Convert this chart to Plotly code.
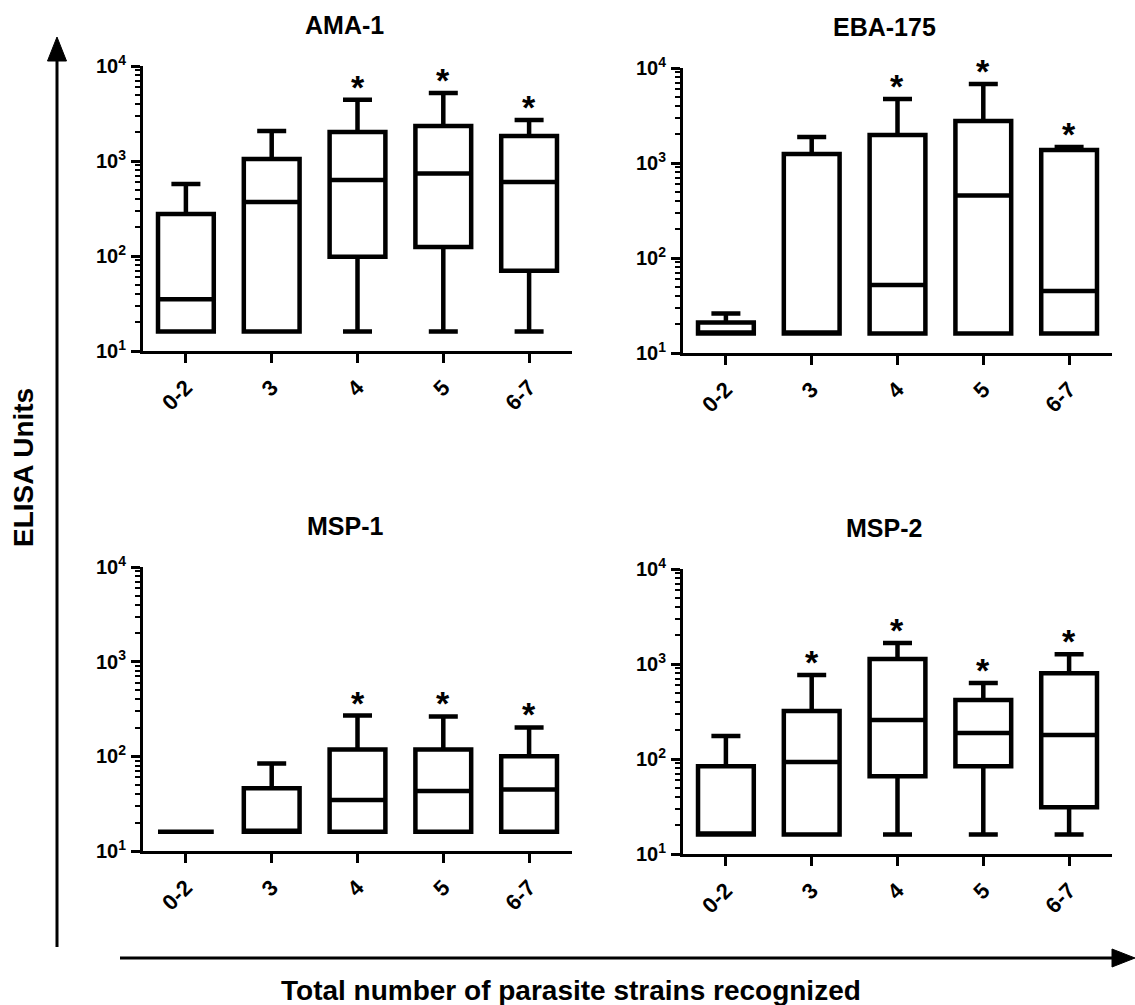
import plotly.graph_objects as go
import math

W, H = 1135, 1005

categories = ["0-2", "3", "4", "5", "6-7"]

# AMA-1
ama_low = [16, 16, 16, 16, 16]
ama_q1 = [16, 16, 98, 124, 70]
ama_med = [35, 370, 630, 740, 600]
ama_q3 = [277, 1050, 2020, 2330, 1830]
ama_high = [573, 2070, 4400, 5200, 2700]
ama_sig = [False, False, True, True, True]

# EBA-175
eba_low = [16, 16, 16, 16, 16]
eba_q1 = [16, 16, 16, 16, 16]
eba_med = [16, 16, 52, 455, 45]
eba_q3 = [21, 1245, 1970, 2770, 1370]
eba_high = [26, 1880, 4720, 6800, 1470]
eba_sig = [False, False, True, True, True]

# MSP-1
msp1_low = [16, 16, 16, 16, 16]
msp1_q1 = [16, 16, 16, 16, 16]
msp1_med = [16, 16, 34.5, 43, 44.5]
msp1_q3 = [16, 46, 118, 118, 100]
msp1_high = [16, 84, 270, 264, 202]
msp1_sig = [False, False, True, True, True]

# MSP-2
msp2_low = [16, 16, 16, 16, 16]
msp2_q1 = [16, 16, 66, 84, 31]
msp2_med = [16, 93, 257, 188, 179]
msp2_q3 = [84, 320, 1130, 418, 800]
msp2_high = [175, 766, 1660, 631, 1270]
msp2_sig = [False, True, True, True, True]

panel_titles = ["AMA-1", "EBA-175", "MSP-1", "MSP-2"]
y_tickvals = [10, 100, 1000, 10000]
y_ticktext = ["10<sup>1</sup>", "10<sup>2</sup>", "10<sup>3</sup>", "10<sup>4</sup>"]
minor_vals = [m * 10 ** e for e in (1, 2, 3) for m in range(2, 10)]

x_title = "Total number of parasite strains recognized"
y_title = "ELISA Units"

FONT = "Liberation Sans, Arial, sans-serif"


def px_x(x):
    return x / W


def px_y(y):
    return 1 - y / H


panels = [
    dict(data=(ama_low, ama_q1, ama_med, ama_q3, ama_high), sig=ama_sig,
         xdom=(143, 572), ydom=(66, 351), title_xy=(344, 25)),
    dict(data=(eba_low, eba_q1, eba_med, eba_q3, eba_high), sig=eba_sig,
         xdom=(683, 1112), ydom=(68, 353), title_xy=(884, 27)),
    dict(data=(msp1_low, msp1_q1, msp1_med, msp1_q3, msp1_high), sig=msp1_sig,
         xdom=(143, 572), ydom=(567, 851), title_xy=(345, 526)),
    dict(data=(msp2_low, msp2_q1, msp2_med, msp2_q3, msp2_high), sig=msp2_sig,
         xdom=(683, 1112), ydom=(569, 854), title_xy=(884, 528)),
]

fig = go.Figure()
annotations = []
layout_axes = {}

for i, p in enumerate(panels):
    n = "" if i == 0 else str(i + 1)
    low, q1, med, q3, high = p["data"]
    fig.add_trace(go.Box(
        x=categories, q1=q1, median=med, q3=q3,
        lowerfence=low, upperfence=high,
        fillcolor="white", line=dict(color="black", width=4.5),
        whiskerwidth=0.52, boxpoints=False, showlegend=False,
        xaxis="x" + n, yaxis="y" + n, hoverinfo="skip",
    ))
    x0, x1 = p["xdom"]
    yt, yb = p["ydom"]
    layout_axes["xaxis" + n] = dict(
        domain=[px_x(x0), px_x(x1)], anchor="y" + n, type="category",
        range=[-0.5, 4.5], showline=True, linewidth=3, linecolor="black",
        ticks="outside", ticklen=9, tickwidth=3, tickcolor="black",
        tickangle=-45, showgrid=False, zeroline=False, automargin=False,
        ticklabelstandoff=3,
        tickfont=dict(family=FONT, size=22, color="black", weight="bold"),
        categoryorder="array", categoryarray=categories,
    )
    layout_axes["yaxis" + n] = dict(
        domain=[px_y(yb), px_y(yt)], anchor="x" + n, type="log",
        range=[1, 4], showline=True, linewidth=3, linecolor="black",
        ticks="outside", ticklen=9, tickwidth=3, tickcolor="black",
        tickmode="array", tickvals=y_tickvals, ticktext=y_ticktext,
        showgrid=False, zeroline=False, ticklabelstandoff=1, automargin=False,
        tickfont=dict(family=FONT, size=20, color="black", weight="bold"),
        minor=dict(ticks="outside", ticklen=5, tickwidth=2, tickcolor="black",
                   tickmode="array", tickvals=minor_vals, showgrid=False),
    )
    tx, ty = p["title_xy"]
    annotations.append(dict(
        text="<b>%s</b>" % panel_titles[i], x=px_x(tx), y=px_y(ty),
        xref="paper", yref="paper", showarrow=False,
        xanchor="center", yanchor="middle",
        font=dict(family=FONT, size=25, color="black"),
    ))
    for ci, (h, s) in enumerate(zip(high, p["sig"])):
        if s:
            annotations.append(dict(
                text="<b>*</b>", x=ci, y=math.log10(h), xref="x" + n, yref="y" + n,
                showarrow=False, xanchor="center", yanchor="bottom", yshift=-8,
                font=dict(family=FONT, size=34, color="black"),
            ))

annotations.append(dict(
    text="<b>%s</b>" % y_title, x=px_x(24), y=px_y(468), xref="paper", yref="paper",
    showarrow=False, textangle=-90, xanchor="center", yanchor="middle",
    font=dict(family=FONT, size=28, color="black"),
))
annotations.append(dict(
    text="<b>%s</b>" % x_title, x=px_x(571), y=px_y(990), xref="paper", yref="paper",
    showarrow=False, xanchor="center", yanchor="middle",
    font=dict(family=FONT, size=28, color="black"),
))

shapes = [
    dict(type="line", xref="paper", yref="paper",
         x0=px_x(57), x1=px_x(57), y0=px_y(947), y1=px_y(58),
         line=dict(color="black", width=3)),
    dict(type="path", xref="paper", yref="paper",
         path="M %f,%f L %f,%f L %f,%f Z" % (px_x(47.5), px_y(61), px_x(66.5), px_y(61), px_x(57), px_y(37)),
         fillcolor="black", line=dict(color="black", width=1)),
    dict(type="line", xref="paper", yref="paper",
         x0=px_x(120), x1=px_x(1115), y0=px_y(958), y1=px_y(958),
         line=dict(color="black", width=3)),
    dict(type="path", xref="paper", yref="paper",
         path="M %f,%f L %f,%f L %f,%f Z" % (px_x(1112), px_y(949), px_x(1112), px_y(967), px_x(1135), px_y(958)),
         fillcolor="black", line=dict(color="black", width=1)),
]

fig.update_layout(
    width=W, height=H, margin=dict(l=0, r=0, t=0, b=0, pad=0, autoexpand=False),
    paper_bgcolor="white", plot_bgcolor="white",
    boxgap=0.35, boxgroupgap=0, showlegend=False,
    annotations=annotations, shapes=shapes,
    font=dict(family=FONT, color="black"),
    **layout_axes,
)

fig.write_html(
    "out.html",
    config={"displayModeBar": False, "staticPlot": True},
    post_script="document.body.style.margin='0';document.body.style.overflow='hidden';",
)
